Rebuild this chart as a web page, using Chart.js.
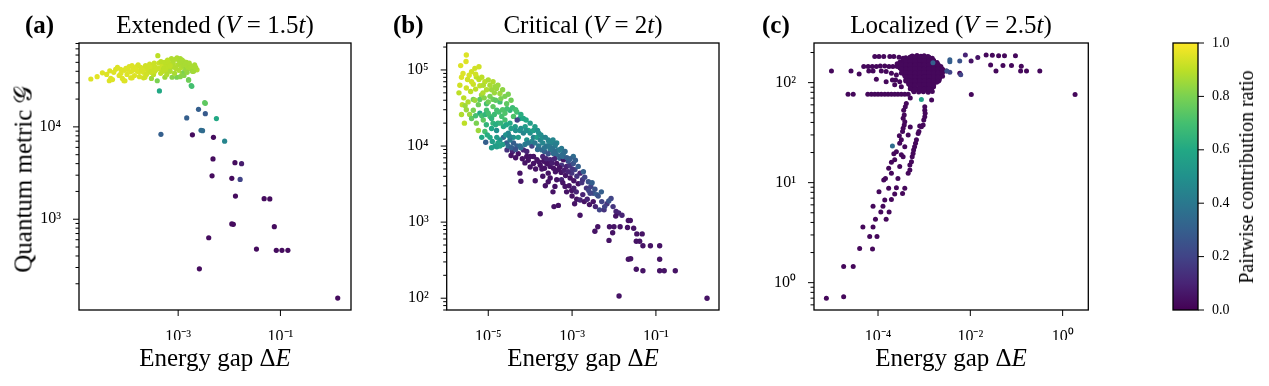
<!DOCTYPE html>
<html>
<head>
<meta charset="utf-8">
<script src="https://cdn.jsdelivr.net/npm/chart.js@4.4.1/dist/chart.umd.min.js"></script>
<style>
  body { margin: 0; background: #fff; width: 1269px; height: 386px; overflow: hidden; position: relative; }
  canvas { position: absolute; top: 0; }
  .t { position: absolute; font: 25px "Liberation Serif", serif; line-height: 25px; white-space: nowrap; color: #000; }
  .c { transform: translateX(-50%); }
  .b { font-weight: bold; }
  .r { transform: translate(-50%, -50%) rotate(-90deg); }
</style>
</head>
<body>
<canvas id="chartA" width="370" height="386" style="left:0px"></canvas>
<canvas id="chartB" width="360" height="386" style="left:380px"></canvas>
<canvas id="chartC" width="360" height="386" style="left:750px"></canvas>
<canvas id="chartBar" width="149" height="386" style="left:1120px"></canvas>

<div class="t b" style="left:25px;top:12px">(a)</div>
<div class="t c" style="left:215px;top:12px">Extended (<i>V</i> = 1.5<i>t</i>)</div>
<div class="t c" style="left:215px;top:345px">Energy gap Δ<i>E</i></div>
<div class="t r" style="left:23px;top:179px">Quantum metric 𝒢</div>

<div class="t b" style="left:393px;top:12px">(b)</div>
<div class="t c" style="left:583px;top:12px">Critical (<i>V</i> = 2<i>t</i>)</div>
<div class="t c" style="left:583px;top:345px">Energy gap Δ<i>E</i></div>

<div class="t b" style="left:762px;top:12px">(c)</div>
<div class="t c" style="left:951px;top:12px">Localized (<i>V</i> = 2.5<i>t</i>)</div>
<div class="t c" style="left:951px;top:345px">Energy gap Δ<i>E</i></div>

<div class="t r" style="left:1246px;top:177px;font-size:20px;line-height:20px">Pairwise contribution ratio</div>

<script>
// each point: [energy gap ΔE, quantum metric G, pairwise contribution ratio]
const seriesA = [
  [1.96e-5,3.3e4,.95],[3.3e-5,3.85e4,.95],[4.6e-5,4.05e4,.95],[4.8e-5,3.35e4,.95],[4.5e-5,3.16e4,.95],[5.2e-5,3.25e4,.95],[6.0e-5,4.2e4,.95],[6.5e-5,4.4e4,.95],[7.0e-5,3.6e4,.95],[7.6e-5,3.8e4,.95],
  [8.1e-5,3.35e4,.95],[8.7e-5,3.16e4,.95],[9.1e-5,3.16e4,.95],[8.8e-5,4.1e4,.95],[1.02e-4,4.2e4,.95],[1.1e-4,4.5e4,.95],[1.18e-4,3.95e4,.95],[1.18e-4,3.4e4,.95],[1.26e-4,3.4e4,.95],[1.3e-4,4.1e4,.95],
  [1.35e-4,4.35e4,.95],[1.47e-4,4.3e4,.95],[1.55e-4,4.5e4,.95],[1.6e-4,4.0e4,.95],[1.7e-4,3.95e4,.95],[1.85e-4,4.4e4,.94],[1.9e-4,4.05e4,.94],[2.0e-4,4.2e4,.94],[2.1e-4,3.9e4,.94],[2.1e-4,3.4e4,.93],
  [2.2e-4,4.3e4,.94],[2.24e-4,3.44e4,.93],[2.3e-4,4.6e4,.93],[2.5e-4,4.4e4,.93],[2.6e-4,4.1e4,.93],[2.7e-4,4.35e4,.93],[2.77e-4,4.8e4,.93],[3.0e-4,3.35e4,.85],[3.1e-4,4.1e4,.92],[3.2e-4,4.6e4,.92],
  [3.3e-4,3.7e4,.9],[3.5e-4,4.0e4,.92],[3.6e-4,4.4e4,.92],[3.9e-4,3.16e4,.8],[4.0e-4,5.9e4,.9],[4.2e-4,4.9e4,.92],[4.3e-4,4.3e4,.92],[4.55e-4,3.8e4,.9],[4.9e-4,4.55e4,.92],[5.2e-4,4.3e4,.9],
  [5.5e-4,3.45e4,.85],[5.8e-4,4.7e4,.9],[5.9e-4,4.1e4,.9],[6.3e-4,4.45e4,.9],[6.6e-4,4.9e4,.9],[6.9e-4,4.3e4,.9],[7.0e-4,4.0e4,.88],[7.4e-4,5.5e4,.88],[7.6e-4,3.45e4,.82],[7.9e-4,5.2e4,.88],
  [8.0e-4,4.9e4,.88],[8.2e-4,4.45e4,.88],[8.9e-4,5.4e4,.88],[9.0e-4,4.3e4,.88],[9.4e-4,3.45e4,.8],[9.8e-4,4.7e4,.88],[1.03e-3,4.1e4,.88],[1.05e-3,5.2e4,.87],[1.1e-3,4.8e4,.87],[1.15e-3,4.4e4,.88],
  [1.2e-3,3.8e4,.85],[1.25e-3,4.6e4,.87],[1.29e-3,5.1e4,.87],[1.3e-3,3.9e4,.8],[1.35e-3,4.9e4,.87],[1.4e-3,4.2e4,.85],[1.5e-3,4.55e4,.87],[1.6e-3,3.25e4,.8],[1.6e-3,4.3e4,.87],[1.7e-3,4.6e4,.87],
  [1.8e-3,4.5e4,.87],[1.9e-3,4.0e4,.85],[2.04e-3,4.4e4,.87],[2.1e-3,4.7e4,.87],[2.24e-3,4.2e4,.88],[2.34e-3,4.15e4,.88],[1.6e-3,3.2e4,.78],[1.8e-3,2.8e4,.7],[1.85e-3,2.75e4,.7],
  [1.0e-4,3.7e4,.95],[1.4e-4,3.6e4,.95],[1.75e-4,3.5e4,.94],[2.4e-4,3.7e4,.93],[2.9e-4,3.9e4,.92],[3.4e-4,4.9e4,.92],[4.6e-4,5.1e4,.9],[5.4e-4,5.0e4,.9],[6.0e-4,3.7e4,.88],[6.2e-4,5.3e4,.9],
  [8.5e-4,3.8e4,.87],[9.5e-4,5.6e4,.88],[1.1e-3,5.5e4,.87],[1.2e-3,5.3e4,.87],[1.45e-3,5.0e4,.87],[1.65e-3,4.9e4,.87],[1.1e-3,3.5e4,.82],[1.3e-3,3.6e4,.82],[2.0e-3,4.0e4,.86],[2.2e-3,4.4e4,.87],
  [1.5e-3,3.9e4,.84],[7.0e-4,4.6e4,.9],[5.0e-4,4.0e4,.9],[3.8e-4,4.2e4,.92],[2.8e-4,4.5e4,.93],[1.65e-4,4.7e4,.94],[1.25e-4,4.6e4,.95],[9.5e-5,4.3e4,.95],[7.5e-5,4.2e4,.95],[5.5e-5,3.9e4,.95],
  [4.0e-5,3.7e4,.95],[2.6e-5,3.5e4,.96],
  [4.3e-4,2.45e4,.6],[3.3e-3,1.83e4,.75],[3.4e-3,1.8e4,.75],[2.5e-3,1.55e4,.3],[1.47e-3,1.25e4,.3],[3.4e-3,1.39e4,.28],[5.6e-3,1.23e4,.6],[4.6e-4,8.3e3,.3],[1.9e-3,8.2e3,.03],[2.8e-3,9.2e3,.35],
  [3.0e-3,9.1e3,.35],[4.9e-3,7.7e3,.03],[8.1e-3,7.0e3,.45],[4.8e-3,4.5e3,.03],[1.29e-2,4.1e3,.03],[1.74e-2,4.0e3,.08],[4.6e-3,2.95e3,.03],[1.12e-2,2.77e3,.03],[1.63e-2,2.7e3,.2],[1.32e-2,1.78e3,.03],
  [4.8e-2,1.67e3,.03],[6.2e-2,1.66e3,.03],[1.12e-2,890,.03],[1.2e-2,880,.03],[7.6e-2,830,.03],[3.96e-3,630,.03],[3.4e-2,475,.03],[8.3e-2,460,.03],[0.107,460,.03],[0.14,460,.03],
  [2.6e-3,290,.03],[1.32,140,.03]
];

const seriesB = [
  [3.0e-6,1.57e5,.95],[2.2e-6,1.14e5,.95],[2.95e-6,1.29e5,.95],[4.8e-6,1.05e5,.93],[6.0e-6,1.1e5,.93],[2.3e-6,8.0e4,.95],[3.2e-6,7.5e4,.93],[2.1e-6,6.3e4,.93],[2.0e-6,5.0e4,.9],[2.4e-6,3.5e4,.9],
  [2.8e-6,3.4e4,.85],[2.7e-6,2.0e4,.9],[3.6e-6,2.6e4,.85],[4.4e-6,6.5e4,.92],[6.0e-6,7.5e4,.9],[6.3e-6,6.2e4,.9],[8.3e-6,7.0e4,.9],[1.0e-5,7.4e4,.88],[1.3e-5,7.0e4,.88],[9.1e-6,5.5e4,.88],
  [6.9e-6,4.7e4,.85],[1.1e-5,4.5e4,.8],[1.58e-5,5.7e4,.85],[1.9e-5,4.9e4,.85],[1.9e-5,3.8e4,.7],[5.8e-6,3.5e4,.78],[4.4e-6,2.95e4,.8],[6.3e-6,2.7e4,.6],[9.1e-6,2.95e4,.7],[1.3e-5,3.3e4,.75],
  [5.8e-6,1.6e4,.85],[8.3e-6,1.55e4,.7],[8.7e-6,1.12e4,.3],[1.45e-5,1.0e4,.55],[1.9e-5,1.0e4,.6],[1.3e-5,2.0e4,.65],[1.58e-5,1.6e4,.5],[2.1e-5,2.45e4,.7],[2.5e-5,2.7e4,.72],[2.75e-5,3.6e4,.75],
  [3.3e-5,2.95e4,.65],[4.0e-5,2.45e4,.72],[4.8e-5,2.8e4,.7],[5.7e-5,2.3e4,.55],[6.9e-5,2.3e4,.6],[7.6e-5,1.8e4,.55],[4.9e-5,2.2e4,.2],[3.0e-5,1.48e4,.45],[2.3e-5,1.3e4,.35],[4.0e-5,1.3e4,.5],
  [2.75e-5,1.1e4,.3],[2.8e-5,8.9e3,.15],[3.8e-5,8.5e3,.1],[4.8e-5,1.0e4,.3],[5.2e-5,7.9e3,.05],[6.9e-5,8.9e3,.1],[8.3e-5,7.3e3,.05],[9.1e-5,1.6e4,.6],[1.0e-4,1.48e4,.5],[1.2e-4,1.3e4,.45],
  [1.45e-4,1.3e4,.55],[1.74e-4,1.2e4,.45],[2.0e-4,1.1e4,.45],[2.5e-4,1.0e4,.4],[3.0e-4,8.9e3,.4],[3.6e-4,8.0e3,.35],[4.3e-4,7.6e3,.35],[6.2e-4,8.0e3,.4],[5.1e-4,6.9e3,.3],[1.1e-4,1.0e4,.2],
  [1.2e-4,7.3e3,.05],[1.45e-4,6.6e3,.05],[1.2e-4,5.9e3,.05],[1.74e-4,5.6e3,.05],[2.0e-4,7.3e3,.1],[2.5e-4,5.9e3,.05],[3.0e-4,6.6e3,.1],[3.6e-4,5.1e3,.05],[4.7e-4,4.9e3,.05],[5.6e-4,5.6e3,.15],
  [7.4e-4,5.4e3,.1],[8.9e-4,5.6e3,.15],[9.8e-4,4.4e3,.15],[1.17e-3,4.9e3,.2],[1.55e-3,4.4e3,.1],[5.7e-5,4.4e3,.05],[6.0e-5,3.45e3,.05],[1.32e-4,3.5e3,.05],[1.74e-4,1.29e3,.05],[2.7e-4,3.4e3,.05],
  [3.9e-4,2.95e3,.05],[4.3e-4,3.6e3,.05],[5.6e-4,3.6e3,.1],[6.8e-4,2.95e3,.05],[7.4e-4,2.5e3,.05],[9.8e-4,2.6e3,.05],[1.26e-3,2.5e3,.1],[1.29e-3,2.0e3,.05],[1.55e-3,1.95e3,.1],[1.78e-3,3.6e3,.15],
  [2.45e-3,3.4e3,.25],[2.8e-3,2.95e3,.2],[3.2e-3,2.4e3,.25],[3.9e-3,2.3e3,.3],[2.7e-3,2.4e3,.2],[3.7e-4,1.6e3,.05],[4.7e-4,1.66e3,.05],[1.15e-3,1.74e3,.05],[1.55e-3,1.23e3,.05],[1.95e-3,1.86e3,.05],
  [3.2e-3,1.86e3,.05],[4.5e-3,1.45e3,.2],[5.1e-3,1.86e3,.2],[6.8e-3,1.74e3,.15],[8.5e-3,2.04e3,.2],[5.8e-3,1.45e3,.15],[1.12e-2,1.38e3,.1],[1.29e-2,1.32e3,.1],[1.55e-2,1.23e3,.1],[2.2e-2,1.05e3,.05],
  [2.45e-2,1.05e3,.05],[4.1e-3,870,.05],[3.5e-3,760,.05],[7.8e-3,870,.05],[1.0e-2,870,.05],[1.4e-2,870,.05],[2.1e-2,850,.05],[2.95e-2,830,.05],[9.3e-3,725,.05],[7.6e-3,575,.05],
  [3.5e-2,700,.05],[4.7e-2,700,.05],[3.4e-2,560,.05],[4.1e-2,560,.05],[4.9e-2,490,.05],[7.4e-2,490,.05],[0.123,490,.05],[2.2e-2,325,.05],[2.5e-2,330,.05],[0.123,325,.05],
  [3.4e-2,240,.05],[4.9e-2,230,.05],[0.123,230,.05],[0.158,230,.05],[0.29,230,.05],[1.32e-2,107,.05],[1.66,100,.05],
  [8.3e-5,1.2e4,.5],[1.1e-4,1.15e4,.45],[1.6e-4,1.0e4,.4],[1.9e-4,8.9e3,.35],[2.2e-4,8.5e3,.3],[2.7e-4,7.9e3,.25],[3.2e-4,1.1e4,.45],[3.9e-4,1.0e4,.4],[4.7e-4,8.9e3,.4],[5.6e-4,7.6e3,.35],
  [6.8e-4,6.9e3,.3],[8.1e-4,6.3e3,.25],[1.07e-3,5.9e3,.25],[6.2e-4,6.6e3,.05],[4.3e-4,5.9e3,.05],[3.0e-4,5.4e3,.05],[2.2e-4,5.1e3,.05],[2.7e-4,4.4e3,.05],[1.0e-4,7.3e3,.05],[8.3e-5,8.5e3,.1],
  [5.7e-5,1.0e4,.35],[4.0e-5,1.1e4,.3],[3.3e-5,1.2e4,.4],[1.9e-5,1.2e4,.5],[1.1e-5,1.3e4,.6],[1.6e-5,1.3e4,.55],[2.3e-5,1.8e4,.6],[1.7e-5,2.0e4,.65],[1.1e-5,2.45e4,.7],[7.6e-6,2.2e4,.75],
  [5.2e-6,2.0e4,.8],[4.4e-6,4.1e4,.8],[6.3e-6,4.1e4,.75],[9.1e-6,3.6e4,.7],[1.3e-5,4.1e4,.78],[1.6e-5,2.95e4,.7],[2.5e-5,2.2e4,.7],[3.3e-5,2.0e4,.6],[4.4e-5,1.8e4,.55],[5.7e-5,1.6e4,.5],
  [6.9e-5,1.48e4,.45],[5.2e-5,1.3e4,.55],[1.2e-4,1.6e4,.55],[1.6e-4,1.48e4,.5],[2.0e-4,1.3e4,.5],[2.7e-4,1.2e4,.45],[4.3e-4,1.1e4,.45],[5.6e-4,9.3e3,.4],[6.8e-4,8.5e3,.35],[1.2e-5,5.5e4,.85],
  [7.6e-6,6.3e4,.88],[5.2e-6,8.1e4,.9],[4.0e-6,9.5e4,.93],[1.45e-5,6.0e4,.85],[1.07e-3,7.3e3,.35],[1.4e-3,5.4e3,.3],[1.86e-3,4.6e3,.3],
  [2.5e-6,9.0e4,.95],[3.5e-6,8.5e4,.94],[4.0e-6,7.0e4,.93],[5.0e-6,8.8e4,.93],[7.0e-6,8.0e4,.9],[3.0e-6,5.8e4,.93],[3.8e-6,5.2e4,.9],[5.0e-6,5.6e4,.9],[7.5e-6,5.0e4,.88],[1.1e-5,6.3e4,.87],
  [1.4e-5,5.0e4,.85],[1.7e-5,6.3e4,.85],[2.2e-5,5.5e4,.83],[2.5e-5,4.5e4,.8],[2.0e-5,4.2e4,.8],[3.0e-5,4.8e4,.8],[3.5e-5,4.0e4,.78],[2.6e-6,4.3e4,.9],[3.3e-6,3.8e4,.88],[4.8e-6,4.0e4,.85],
  [8.0e-6,4.3e4,.82],[1.0e-5,3.8e4,.78],[1.5e-5,4.0e4,.75],[2.3e-6,2.6e4,.88],[3.0e-6,3.0e4,.85],
  [4.0e-6,2.3e4,.75],[5.0e-6,2.5e4,.7],[7.0e-6,2.5e4,.7],[8.5e-6,2.6e4,.65],[1.0e-5,2.7e4,.7],[1.2e-5,2.3e4,.65],[1.4e-5,2.6e4,.68],[1.8e-5,2.8e4,.7],[2.2e-5,3.0e4,.72],[2.8e-5,3.1e4,.7],
  [3.8e-5,3.2e4,.68],[4.5e-5,3.0e4,.7],[6.0e-5,2.6e4,.62],[8.0e-5,2.2e4,.6],[1.0e-4,2.0e4,.55],[1.3e-4,1.8e4,.55],[9.0e-6,1.9e4,.65],[1.2e-5,1.7e4,.6],[1.5e-5,1.9e4,.62],[2.0e-5,2.0e4,.65],
  [2.7e-5,1.9e4,.6],[3.5e-5,1.7e4,.55],[4.5e-5,1.6e4,.5],[7.0e-6,1.3e4,.6],[9.5e-6,1.4e4,.62],[1.25e-5,1.15e4,.55],[1.7e-5,1.1e4,.58],[2.2e-5,1.05e4,.55],[2.6e-5,1.4e4,.5],[3.2e-5,1.35e4,.45],
  [6.0e-5,1.7e4,.5],[8.0e-5,1.6e4,.5],[1.5e-4,1.6e4,.5],[1.8e-4,1.4e4,.48],[2.3e-4,1.3e4,.45],[2.8e-4,1.15e4,.45],[3.5e-4,1.2e4,.45],[4.0e-4,1.05e4,.42],[1.2e-5,9.5e3,.55],[1.6e-5,9.8e3,.55],
  [3.0e-5,1.0e4,.35],[3.6e-5,9.5e3,.3],[4.5e-5,9.0e3,.25],[6.0e-5,9.5e3,.35],[7.5e-5,1.05e4,.4],[9.0e-5,1.1e4,.4],[1.3e-4,1.1e4,.4],[1.5e-4,9.0e3,.35],[2.2e-4,9.5e3,.38],[2.9e-4,9.8e3,.4],
  [3.4e-4,9.2e3,.38],[4.0e-4,8.5e3,.35],[5.0e-4,8.8e3,.4],[6.0e-4,7.3e3,.35],[7.5e-4,7.0e3,.3],[9.0e-4,6.8e3,.3],[1.2e-3,6.5e3,.3],
  [3.5e-5,7.5e3,.05],[4.5e-5,7.0e3,.05],[6.5e-5,6.8e3,.05],[7.5e-5,6.0e3,.05],[9.0e-5,6.5e3,.05],[1.0e-4,5.3e3,.05],[1.35e-4,5.0e3,.05],[1.6e-4,6.2e3,.05],[1.9e-4,5.0e3,.05],[2.1e-4,6.3e3,.05],
  [2.4e-4,6.8e3,.1],[2.8e-4,5.8e3,.05],[3.3e-4,6.0e3,.08],[3.8e-4,6.8e3,.1],[4.0e-4,4.6e3,.05],[5.0e-4,5.2e3,.05],[5.5e-4,4.5e3,.05],[6.5e-4,4.8e3,.08],[7.0e-4,4.1e3,.05],[8.0e-4,4.6e3,.1],
  [9.0e-4,3.8e3,.05],[1.0e-3,5.0e3,.15],[1.1e-3,3.5e3,.05],[1.3e-3,4.0e3,.15],[1.4e-3,3.2e3,.05],[1.7e-3,3.3e3,.15],[2.0e-3,3.9e3,.2],[2.2e-3,2.8e3,.15],[2.5e-3,2.6e3,.2],[3.0e-3,3.3e3,.3],
  [3.5e-3,2.7e3,.25],[4.2e-3,2.2e3,.25],[5.0e-3,2.5e3,.3],[2.0e-4,4.0e3,.05],[2.3e-4,3.0e3,.05],[3.0e-4,3.8e3,.05],[3.5e-4,2.5e3,.05],[6.0e-4,3.3e3,.05],[8.5e-4,3.0e3,.05],[1.0e-3,2.2e3,.05],
  [1.1e-3,2.8e3,.08],[1.8e-3,2.3e3,.1],[2.3e-3,2.0e3,.1],[2.6e-3,1.7e3,.05],[3.6e-3,1.6e3,.1],[6.0e-3,1.6e3,.2],[7.5e-3,1.9e3,.25],[9.5e-3,1.6e3,.15],[1.1e-2,1.2e3,.05]
];

const seriesC = [
  [7.6e-6,0.70,.02],[1.8e-5,0.725,.02],[1.8e-5,1.45,.02],[2.9e-5,1.45,.02],[4.0e-5,2.19,.02],[7.6e-5,2.17,.02],[6.6e-5,2.9,.02],[9.5e-5,2.9,.02],[4.7e-5,3.6,.02],[7.8e-5,3.6,.02],
  [8.8e-5,4.3,.02],[1.5e-4,4.3,.02],[1.15e-4,5.1,.02],[1.74e-4,5.1,.02],[7.8e-5,5.8,.02],[1.28e-4,5.8,.02],[1.4e-4,6.7,.02],[1.95e-4,6.8,.02],[2.3e-4,7.7,.02],[1.05e-4,8.1,.02],
  [1.7e-4,8.8,.02],[2.5e-4,8.9,.02],[3.4e-4,7.8,.02],[3.8e-4,8.8,.02],[1.33e-4,10.6,.02],[1.45e-4,11,.02],[2.7e-4,11,.02],[1.95e-4,12.4,.02],[4.5e-4,12.4,.02],[1.7e-4,13.9,.02],
  [2.95e-4,14.5,.02],[4.9e-4,15,.02],[2.3e-4,16.9,.02],[3.5e-4,18.2,.02],[5.5e-4,18.2,.02],[2.2e-4,19.4,.02],[3.2e-4,19,.02],[5.9e-4,21.2,.02],[3.8e-4,22.9,.02],
  [6.5e-4,24.7,.02],[2.9e-4,29.5,.02],[4.5e-4,30,.02],[7.4e-4,31,.02],[5.0e-4,36,.02],[8.0e-4,36.9,.02],[9.5e-4,37.7,.02],[3.7e-4,37.7,.02],[3.5e-4,44,.02],[1.03e-3,45.7,.02],
  [3.6e-4,53,.02],[1.03e-3,53,.02],[4.1e-4,62,.02],[1.03e-3,57.5,.02],[1.45e-3,67,.02],[5.0e-4,70,.02],
  [1.95e-4,16,.02],[2.5e-4,20.4,.02],[2.95e-4,24.7,.02],[3.2e-4,26.8,.02],[3.4e-4,32.4,.02],[3.5e-4,35,.02],[3.8e-4,40.7,.02],[3.7e-4,47.5,.02],[3.9e-4,57.5,.02],
  [4.9e-4,13.4,.02],[5.3e-4,16.2,.02],[5.75e-4,19.6,.02],[6.2e-4,22.9,.02],[6.8e-4,26.8,.02],[7.7e-4,32.4,.02],[8.7e-4,36.3,.02],[9.8e-4,42.4,.02],[1.05e-3,49.3,.02],
  [2.24e-5,76.5,.02],[2.9e-5,76.5,.02],[6.0e-5,76.5,.02],[7.2e-5,76.5,.02],[8.5e-5,76.5,.02],[1.0e-4,76.5,.02],[1.18e-4,76.5,.02],[1.4e-4,76.5,.02],[1.65e-4,76.5,.02],[1.95e-4,76.5,.02],
  [2.3e-4,76.5,.02],[2.7e-4,76.5,.02],[3.2e-4,76.5,.02],[3.8e-4,76.5,.02],[4.5e-4,76.5,.02],[1.05e-2,76,.02],[1.86,76,.02],
  [9.8e-6,131,.02],[2.6e-5,131,.02],[3.9e-5,122,.02],[4.9e-5,145,.02],[6.3e-5,131,.02],[7.8e-5,131,.02],[9.2e-5,108,.02],
  [6.1e-5,145,.02],[7.5e-5,145,.02],[9.2e-5,145,.02],[1.12e-4,147,.02],[1.4e-4,147,.02],[1.73e-4,145,.02],[2.1e-4,145,.02],[2.6e-4,145,.02],
  [8.5e-5,182,.02],[1.05e-4,182,.02],[1.33e-4,182,.02],[1.8e-4,182,.02],[2.2e-4,182,.02],[2.85e-4,179,.02],[3.5e-4,175,.02],
  [1.18e-4,131,.02],[1.5e-4,129,.02],[1.95e-4,124,.02],[2.5e-4,119,.02],[2.4e-4,106,.02],[2.05e-4,106,.02],[2.95e-4,102,.02],[1.5e-4,102,.02],[2.3e-4,95,.02],[3.2e-4,91,.02],
  [5.5e-4,185,.02],[7.0e-4,187,.02],[8.5e-4,184,.02],[1.0e-3,186,.02],[1.2e-3,183,.02],
  [4.0e-4,177,.02],[5.0e-4,178,.02],[6.3e-4,176,.02],[8.0e-4,177,.02],[1.0e-3,178,.02],[1.25e-3,176,.02],[1.5e-3,175,.02],
  [3.5e-4,169,.02],[4.5e-4,170,.02],[5.6e-4,168,.02],[7.0e-4,169,.02],[8.8e-4,170,.02],[1.1e-3,168,.02],[1.35e-3,169,.02],[1.6e-3,167,.02],
  [3.0e-4,161,.02],[3.9e-4,162,.02],[5.0e-4,160,.02],[6.3e-4,161,.02],[7.9e-4,162,.02],[1.0e-3,160,.02],[1.25e-3,161,.02],[1.55e-3,160,.02],[1.9e-3,159,.02],
  [2.6e-4,154,.02],[3.3e-4,155,.02],[4.2e-4,153,.02],[5.3e-4,154,.02],[6.7e-4,155,.02],[8.5e-4,153,.02],[1.05e-3,154,.02],[1.3e-3,155,.02],[1.65e-3,153,.02],[2.0e-3,152,.02],
  [2.9e-4,147,.02],[3.7e-4,146,.02],[4.7e-4,147,.02],[6.0e-4,148,.02],[7.5e-4,146,.02],[9.5e-4,147,.02],[1.2e-3,148,.02],[1.5e-3,146,.02],[1.85e-3,147,.02],[2.3e-3,145,.02],
  [3.0e-4,140,.02],[3.8e-4,141,.02],[4.8e-4,139,.02],[6.1e-4,140,.02],[7.7e-4,141,.02],[9.6e-4,139,.02],[1.2e-3,140,.02],[1.5e-3,141,.02],[1.9e-3,139,.02],[2.4e-3,138,.02],
  [3.3e-4,134,.02],[4.2e-4,133,.02],[5.3e-4,135,.02],[6.7e-4,134,.02],[8.5e-4,133,.02],[1.07e-3,135,.02],[1.35e-3,134,.02],[1.7e-3,133,.02],[2.15e-3,134,.02],[2.6e-3,132,.02],
  [3.5e-4,128,.02],[4.4e-4,129,.02],[5.6e-4,127,.02],[7.1e-4,128,.02],[9.0e-4,129,.02],[1.13e-3,127,.02],[1.43e-3,128,.02],[1.8e-3,129,.02],[2.3e-3,127,.02],
  [3.7e-4,122,.02],[4.6e-4,121,.02],[5.9e-4,123,.02],[7.4e-4,122,.02],[9.4e-4,121,.02],[1.18e-3,123,.02],[1.5e-3,122,.02],[1.9e-3,121,.02],[2.4e-3,122,.02],
  [3.8e-4,117,.02],[4.8e-4,118,.02],[6.1e-4,116,.02],[7.7e-4,117,.02],[9.7e-4,118,.02],[1.22e-3,116,.02],[1.55e-3,117,.02],[1.95e-3,118,.02],[2.5e-3,116,.02],
  [4.2e-4,111,.02],[5.3e-4,112,.02],[6.7e-4,110,.02],[8.5e-4,111,.02],[1.07e-3,112,.02],[1.35e-3,110,.02],[1.7e-3,111,.02],[2.15e-3,110,.02],
  [4.0e-4,106,.02],[5.1e-4,107,.02],[6.5e-4,105,.02],[8.2e-4,106,.02],[1.04e-3,107,.02],[1.3e-3,105,.02],[1.65e-3,106,.02],[2.1e-3,105,.02],
  [4.6e-4,101,.02],[5.8e-4,102,.02],[7.3e-4,100,.02],[9.2e-4,101,.02],[1.16e-3,102,.02],[1.47e-3,100,.02],[1.85e-3,101,.02],
  [4.6e-4,97,.02],[5.8e-4,96,.02],[7.4e-4,98,.02],[9.3e-4,97,.02],[1.18e-3,96,.02],[1.5e-3,97,.02],
  [5.0e-4,92,.02],[6.3e-4,93,.02],[8.0e-4,91,.02],[1.0e-3,92,.02],[1.27e-3,93,.02],[1.6e-3,91,.02],
  [5.3e-4,88.5,.02],[6.7e-4,88,.02],[8.5e-4,89,.02],[1.08e-3,88,.02],[1.37e-3,89,.02],
  [5.8e-4,84,.02],[7.3e-4,85,.02],[9.2e-4,84,.02],[1.17e-3,83.5,.02],[1.45e-3,85,.02],
  [6.0e-4,81,.02],[7.6e-4,80.5,.02],[9.6e-4,81,.02],[1.22e-3,80,.02],[1.5e-3,81.5,.02],
  [5.0e-4,180,.02],[6.3e-4,181,.02],[8.0e-4,180,.02],[1.0e-3,181,.02],[1.26e-3,180,.02],
  [4.0e-4,165,.02],[5.0e-4,164,.02],[6.3e-4,165,.02],[8.0e-4,166,.02],[1.0e-3,165,.02],[1.26e-3,164,.02],[1.6e-3,165,.02],
  [3.2e-4,150,.02],[4.0e-4,151,.02],[5.0e-4,150,.02],[6.3e-4,149,.02],[8.0e-4,150,.02],[1.0e-3,151,.02],[1.26e-3,150,.02],[1.6e-3,149,.02],[2.0e-3,150,.02],
  [3.2e-4,137,.02],[4.0e-4,136,.02],[5.0e-4,137,.02],[6.3e-4,138,.02],[8.0e-4,137,.02],[1.0e-3,136,.02],[1.26e-3,137,.02],[1.6e-3,138,.02],[2.0e-3,137,.02],[2.5e-3,136,.02],
  [3.2e-4,125,.02],[4.0e-4,126,.02],[5.0e-4,125,.02],[6.3e-4,124,.02],[8.0e-4,125,.02],[1.0e-3,126,.02],[1.26e-3,125,.02],[1.6e-3,124,.02],[2.0e-3,125,.02],[2.5e-3,126,.02],
  [4.0e-4,114,.02],[5.0e-4,115,.02],[6.3e-4,114,.02],[8.0e-4,113,.02],[1.0e-3,114,.02],[1.26e-3,115,.02],[1.6e-3,114,.02],[2.0e-3,113,.02],
  [4.0e-4,104,.02],[5.0e-4,103,.02],[6.3e-4,104,.02],[8.0e-4,105,.02],[1.0e-3,104,.02],[1.26e-3,103,.02],[1.6e-3,104,.02],[2.0e-3,103,.02],
  [5.0e-4,95,.02],[6.3e-4,94,.02],[8.0e-4,95,.02],[1.0e-3,96,.02],[1.26e-3,95,.02],[1.6e-3,94,.02],
  [5.0e-4,87,.02],[6.3e-4,86,.02],[8.0e-4,87,.02],[1.0e-3,86,.02],[1.26e-3,87,.02],
  [7.8e-3,189,.1],[1.04e-2,165,.05],[1.45e-2,178,.05],[2.2e-2,189,.02],[3.0e-2,188,.02],[4.1e-2,186,.02],[5.5e-2,186,.02],[9.5e-2,186,.02],[2.75e-2,150,.02],
  [3.6e-2,131,.02],[5.1e-2,148,.02],[7.8e-2,148,.02],[0.123,131,.02],[0.165,131,.02],[0.32,131,.02],[0.127,146,.02],[5.9e-3,124,.02],[3.0e-3,131,.02],
  [5.9e-3,165,.25],[3.6e-3,162,.3],[3.6e-3,127,.2],[1.55e-3,158,.3],[3.6e-3,169,.3],[3.1e-3,131,.25],[6.2e-3,120,.2],[2.05e-4,23.3,.35],[8.7e-4,68,.55]
];

// tick positions (major decades get labels)
const ticksAX = [1e-3, 1e-1];
const ticksAY = [200,300,400,500,600,700,800,900,1e3,2e3,3e3,4e3,5e3,6e3,7e3,8e3,9e3,1e4,2e4,3e4,4e4,5e4,6e4,7e4,8e4];
const ticksBX = [1e-5, 1e-3, 1e-1];
const ticksBY = [70,80,90,100,200,300,400,500,600,700,800,900,1e3,2e3,3e3,4e3,5e3,6e3,7e3,8e3,9e3,1e4,2e4,3e4,4e4,5e4,6e4,7e4,8e4,9e4,1e5,2e5];
const ticksCX = [1e-4, 1e-2, 1];
const ticksCY = [0.6,0.7,0.8,0.9,1,2,3,4,5,6,7,8,9,10,20,30,40,50,60,70,80,90,100,200];
const ticksBar = [0, 0.2, 0.4, 0.6, 0.8, 1.0];

// viridis colormap anchors
const viridisStops = ['#440154','#482475','#414487','#355f8d','#2a788e','#21918c','#22a884','#44bf70','#7ad151','#bddf26','#fde725'];

function hexRgb(h) { return [1, 3, 5].map(i => parseInt(h.substr(i, 2), 16)); }
function viridis(t) {
  t = Math.min(1, Math.max(0, t));
  const pos = t * (viridisStops.length - 1);
  const i = Math.min(Math.floor(pos), viridisStops.length - 2);
  const f = pos - i;
  const a = hexRgb(viridisStops[i]), b = hexRgb(viridisStops[i + 1]);
  const c = a.map((v, k) => Math.round(v + (b[k] - v) * f));
  return `rgb(${c[0]},${c[1]},${c[2]})`;
}

const sup = {'-': '⁻', '0': '⁰', '1': '¹', '2': '²', '3': '³', '4': '⁴', '5': '⁵', '6': '⁶', '7': '⁷', '8': '⁸', '9': '⁹'};
function isDecade(v) {
  const e = Math.log10(v);
  return Math.abs(e - Math.round(e)) < 1e-6;
}
function decadeLabel(v) {
  if (!isDecade(v)) return '';
  return '10' + String(Math.round(Math.log10(v))).split('').map(c => sup[c]).join('');
}

// box around the axes + outward tick marks
const axesFrame = {
  id: 'axesFrame',
  afterDatasetsDraw(chart, args, opts) {
    const { ctx, chartArea: a } = chart;
    ctx.save();
    ctx.strokeStyle = '#000';
    ctx.lineWidth = 1;
    Object.values(chart.scales).forEach(s => {
      if (!s.options.display) return;
      s.ticks.forEach(t => {
        const p = s.getPixelForValue(t.value);
        const len = (opts.allMajor || isDecade(t.value)) ? 6 : 3.5;
        ctx.beginPath();
        if (s.position === 'left') { ctx.moveTo(a.left, p); ctx.lineTo(a.left - len, p); }
        else if (s.position === 'right') { ctx.moveTo(a.right, p); ctx.lineTo(a.right + len, p); }
        else { ctx.moveTo(p, a.bottom); ctx.lineTo(p, a.bottom + len); }
        ctx.stroke();
      });
    });
    ctx.lineWidth = 1.3;
    ctx.strokeRect(a.left, a.top, a.right - a.left, a.bottom - a.top);
    ctx.restore();
  }
};

const tickFont = { family: 'Liberation Serif', size: 16 };

function logAxis(min, max, tickValues, isX) {
  return {
    type: 'logarithmic',
    position: isX ? 'bottom' : 'left',
    min, max, bounds: 'data',
    grid: { display: false },
    border: { display: false },
    afterBuildTicks: s => { s.ticks = tickValues.map(v => ({ value: v })); },
    afterFit: s => { if (isX) s.height = 30; else s.width = 40; },
    ticks: {
      autoSkip: false, maxRotation: 0, minRotation: 0,
      color: '#000', font: tickFont, padding: isX ? 9 : 10,
      callback: v => decadeLabel(v)
    }
  };
}

function scatterPanel(id, series, xr, yr, xt, yt, pad, radius) {
  new Chart(document.getElementById(id), {
    type: 'scatter',
    data: {
      datasets: [{
        data: series.map(p => ({ x: p[0], y: p[1] })),
        pointBackgroundColor: series.map(p => viridis(p[2])),
        pointBorderWidth: 0,
        pointRadius: radius,
        pointHoverRadius: radius
      }]
    },
    options: {
      responsive: false,
      animation: false,
      events: [],
      layout: { padding: pad },
      plugins: { legend: { display: false }, tooltip: { enabled: false }, axesFrame: {} },
      scales: {
        x: logAxis(xr[0], xr[1], xt, true),
        y: logAxis(yr[0], yr[1], yt, false)
      }
    },
    plugins: [axesFrame]
  });
}

scatterPanel('chartA', seriesA, [1.15e-5, 2.4], [104, 8.1e4], ticksAX, ticksAY, { left: 39, right: 19, top: 43, bottom: 46 }, 2.6);
scatterPanel('chartB', seriesB, [1.02e-6, 3.2], [70, 2.26e5], ticksBX, ticksBY, { left: 26.7, right: 21, top: 43, bottom: 46 }, 2.7);
scatterPanel('chartC', seriesC, [4.1e-6, 3.6], [0.533, 249], ticksCX, ticksCY, { left: 24, right: 21.7, top: 43, bottom: 46 }, 2.5);

// colour bar
new Chart(document.getElementById('chartBar'), {
  type: 'bar',
  data: {
    labels: [''],
    datasets: [{
      data: [1],
      barPercentage: 1,
      categoryPercentage: 1,
      backgroundColor(ctx) {
        const a = ctx.chart.chartArea;
        if (!a) return viridis(0.5);
        const g = ctx.chart.ctx.createLinearGradient(0, a.bottom, 0, a.top);
        viridisStops.forEach((c, i) => g.addColorStop(i / (viridisStops.length - 1), c));
        return g;
      }
    }]
  },
  options: {
    responsive: false,
    animation: false,
    events: [],
    layout: { padding: { left: 53, right: 31, top: 43, bottom: 76 } },
    plugins: { legend: { display: false }, tooltip: { enabled: false }, axesFrame: { allMajor: true } },
    scales: {
      x: { display: false },
      y: {
        position: 'right', min: 0, max: 1,
        grid: { display: false }, border: { display: false },
        afterBuildTicks: s => { s.ticks = ticksBar.map(v => ({ value: v })); },
        afterFit: s => { s.width = 40; },
        ticks: { color: '#000', font: { family: 'Liberation Serif', size: 14 }, padding: 6, callback: v => v.toFixed(1) }
      }
    }
  },
  plugins: [axesFrame]
});
</script>
</body>
</html>
